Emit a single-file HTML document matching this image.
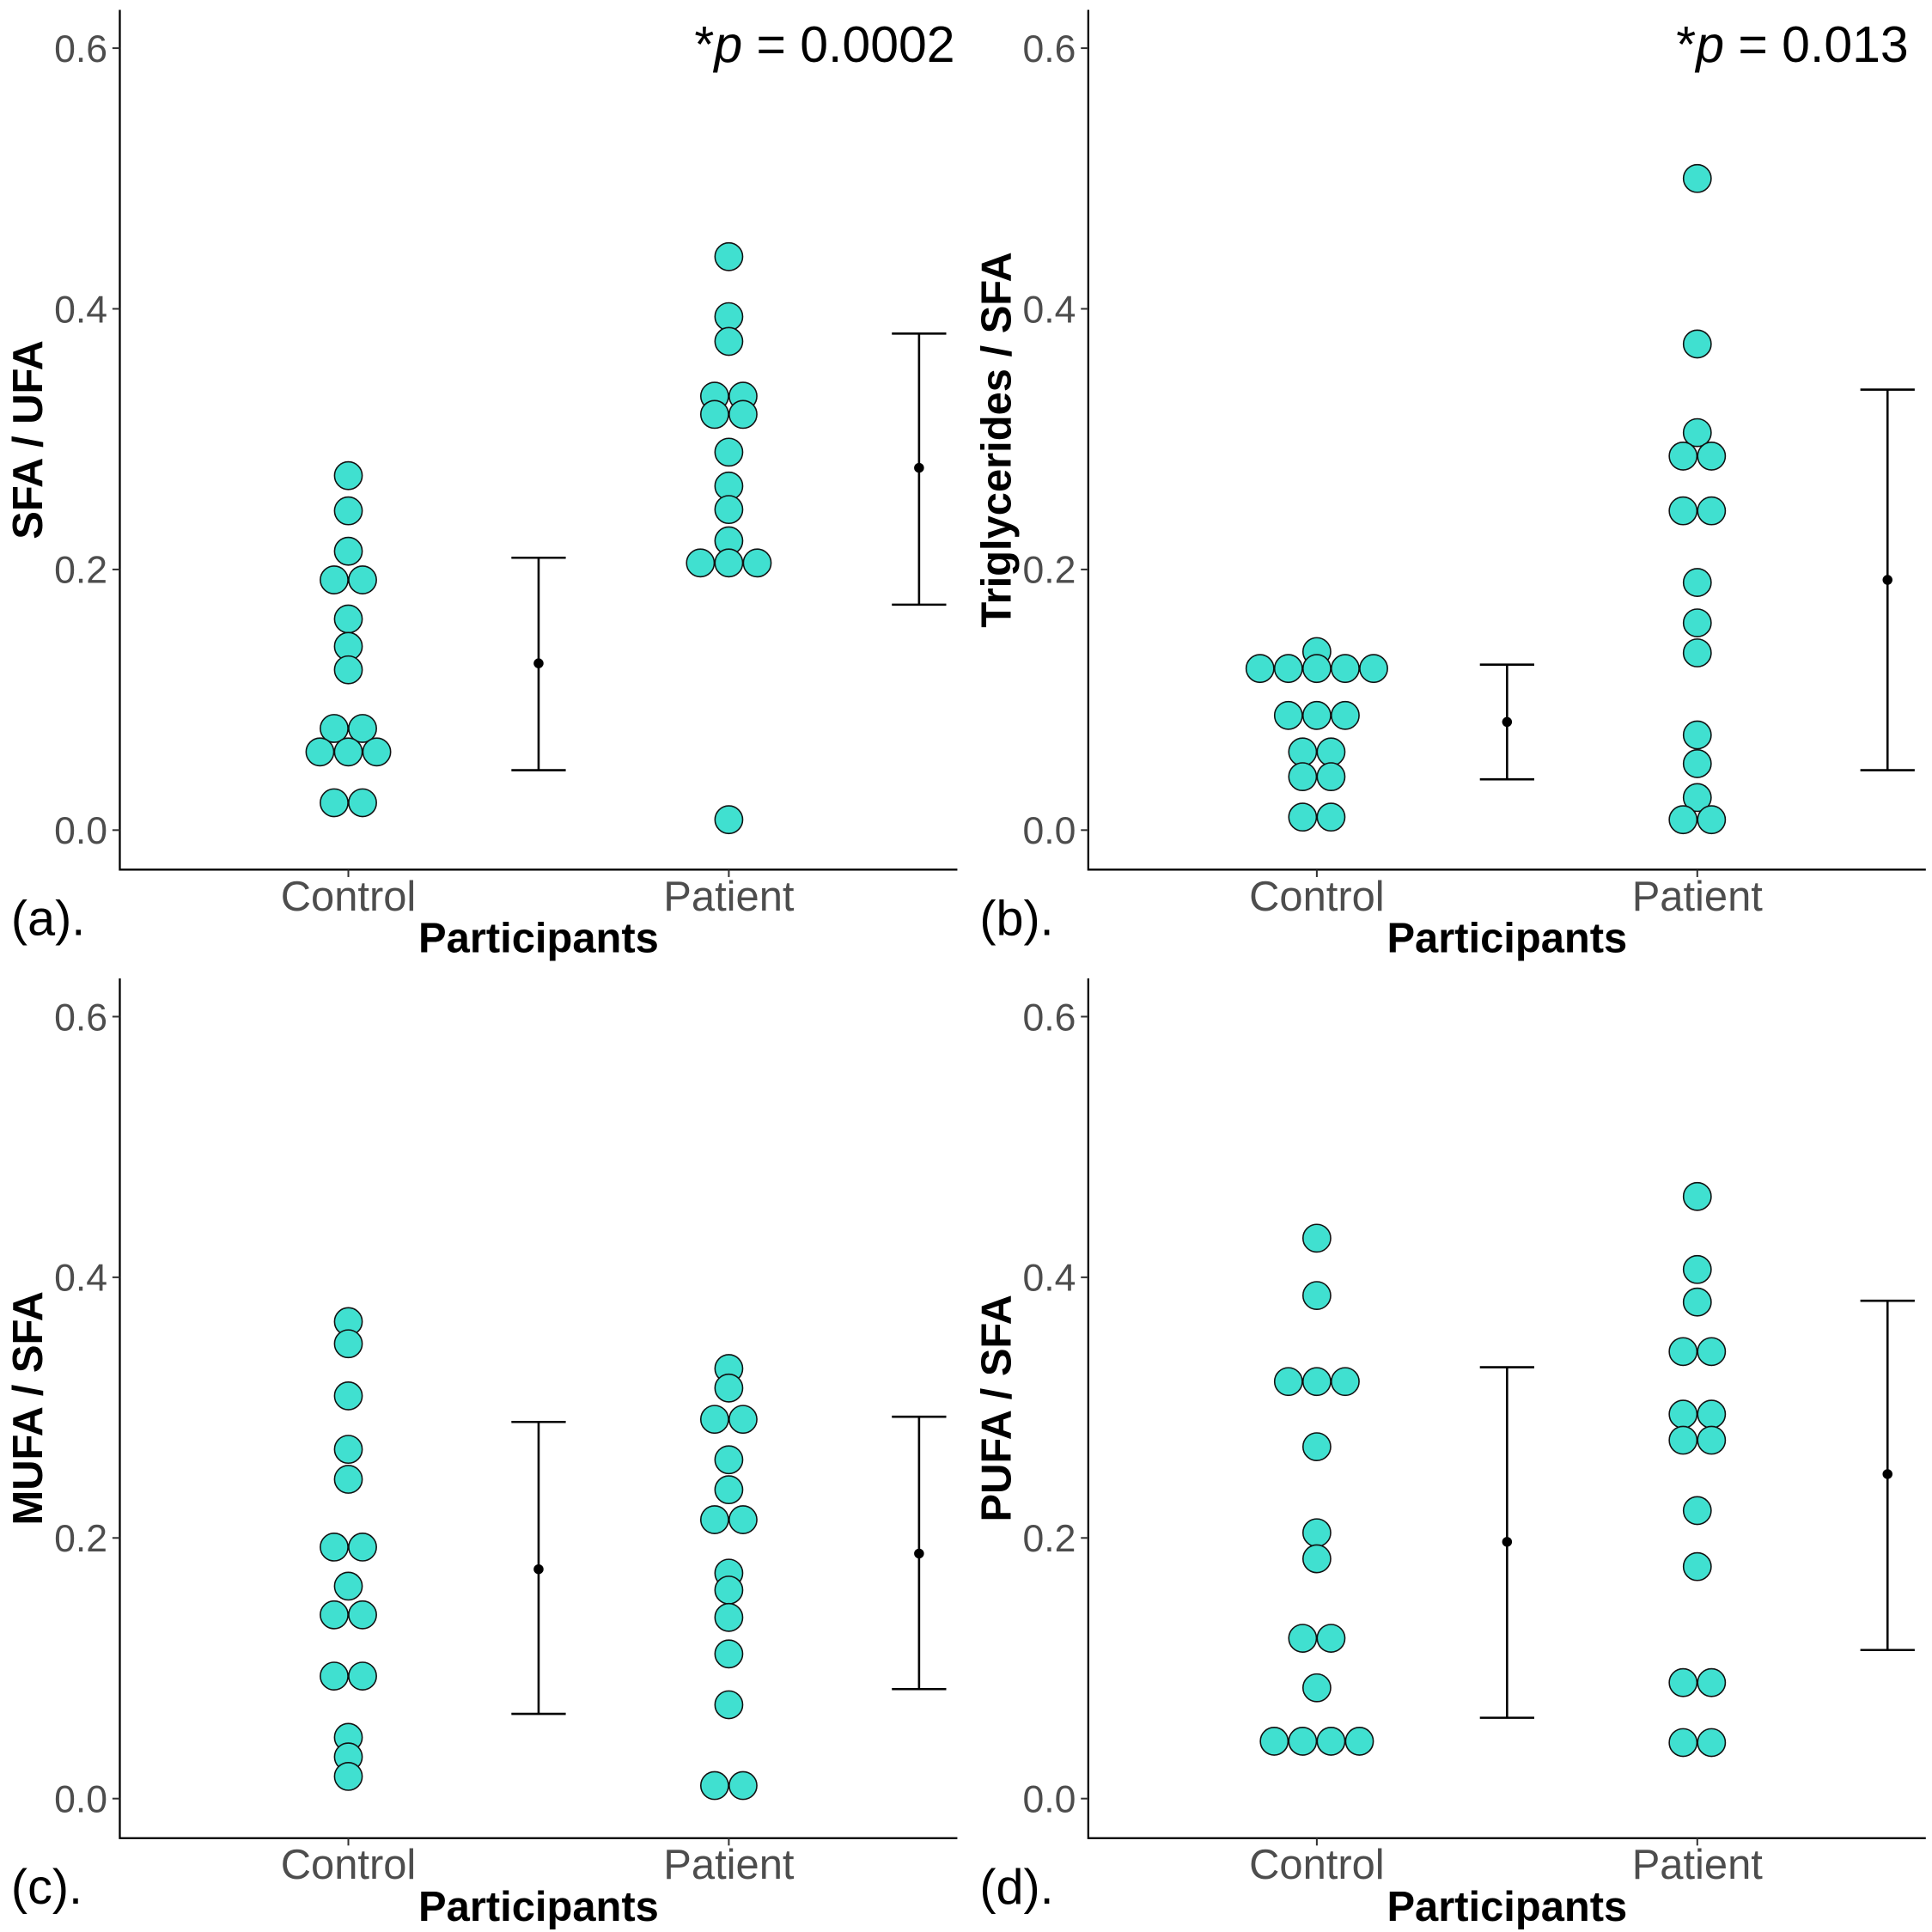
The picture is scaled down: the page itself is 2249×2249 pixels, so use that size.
<!DOCTYPE html>
<html><head><meta charset="utf-8"><style>
html,body{margin:0;padding:0;background:#fff}
svg{display:block}
text{font-family:"Liberation Sans",Arial,sans-serif}
</style></head><body>
<svg id="fig" width="2249" height="2249" viewBox="0 0 1564 1564" xmlns="http://www.w3.org/2000/svg"></svg>
<script>
// ---- data ----
const categories = ["Control","Patient"];
const yTicks = [0.0, 0.2, 0.4, 0.6];
const yTickLabels = ["0.0","0.2","0.4","0.6"];
const panelLetters = ["(a).","(b).","(c).","(d)."];
const yTitles = ["SFA / UFA","Triglycerides / SFA","MUFA / SFA","PUFA / SFA"];
const pStars = ["*","*","",""];
const pValues = ["0.0002","0.013","0.766","0.294"];

const aControl = [0.272,0.245,0.214,0.192,0.192,0.162,0.141,0.123,0.078,0.078,0.060,0.060,0.060,0.021,0.021];
const aPatient = [0.440,0.394,0.375,0.333,0.333,0.319,0.319,0.290,0.264,0.246,0.222,0.205,0.205,0.205,0.008];
const bControl = [0.137,0.124,0.124,0.124,0.124,0.124,0.088,0.088,0.088,0.060,0.060,0.041,0.041,0.010,0.010];
const bPatient = [0.500,0.373,0.305,0.287,0.287,0.245,0.245,0.190,0.159,0.136,0.073,0.051,0.025,0.008,0.008];
const cControl = [0.366,0.349,0.309,0.268,0.245,0.193,0.193,0.163,0.141,0.141,0.094,0.094,0.047,0.032,0.017];
const cPatient = [0.330,0.315,0.291,0.291,0.260,0.237,0.214,0.214,0.173,0.160,0.139,0.111,0.072,0.010,0.010];
const dControl = [0.430,0.386,0.320,0.320,0.320,0.270,0.204,0.184,0.123,0.123,0.085,0.044,0.044,0.044,0.044];
const dPatient = [0.462,0.406,0.381,0.343,0.343,0.295,0.295,0.275,0.275,0.221,0.178,0.089,0.089,0.043,0.043];

// error bars: [mean, lower, upper] per group
const aErr = [[0.128,0.046,0.209],[0.278,0.173,0.381]];
const bErr = [[0.083,0.039,0.127],[0.192,0.046,0.338]];
const cErr = [[0.176,0.065,0.289],[0.188,0.084,0.293]];
const dErr = [[0.197,0.062,0.331],[0.249,0.114,0.382]];

const panels = [
  {ctrl:aControl, pat:aPatient, err:aErr},
  {ctrl:bControl, pat:bPatient, err:bErr},
  {ctrl:cControl, pat:cPatient, err:cErr},
  {ctrl:dControl, pat:dPatient, err:dErr}
];

const NS = "http://www.w3.org/2000/svg";
const svg = document.getElementById('fig');
function mk(tag, attrs, parent){
  const e = document.createElementNS(NS, tag);
  for (const k in attrs) e.setAttribute(k, attrs[k]);
  (parent||svg).appendChild(e);
  return e;
}
const pRight = [773, 761, 753, 753];

panels.forEach((P, i) => {
  const ox = (i % 2) * 784, oy = Math.floor(i / 2) * 784;
  const g = mk('g', {transform:`translate(${ox},${oy})`});
  
  
  const y = v => 672 - v * 1055;
  const x = c => 282 + (c - 1) * 308;

  const ax = mk('path', {d:'M97,8 V704 H775', fill:'none', stroke:'#000', 'stroke-width':1.6}, g);
  
  
  yTicks.forEach((t, k) => {
    mk('line', {x1:91, x2:97, y1:y(t), y2:y(t), stroke:'#333', 'stroke-width':1.4}, g);
    const tl = mk('text', {x:87, y:y(t) + 11, 'text-anchor':'end', 'font-size':31, fill:'#4d4d4d'}, g);
    tl.textContent = yTickLabels[k];
    
    
  });
  categories.forEach((c, k) => {
    mk('line', {x1:x(k+1), x2:x(k+1), y1:704, y2:710, stroke:'#333', 'stroke-width':1.4}, g);
    const tl = mk('text', {x:x(k+1), y:737, 'text-anchor':'middle', 'font-size':34, fill:'#4d4d4d'}, g);
    tl.textContent = c;
    
    
  });
  const xt = mk('text', {x:436, y:771, 'text-anchor':'middle', 'font-size':34, 'font-weight':'bold'}, g);
  xt.textContent = 'Participants';
  
  
  const yt = mk('text', {x:0, y:0, transform:`translate(34,356) rotate(-90)`, 'text-anchor':'middle', 'font-size':34, 'font-weight':'bold'}, g);
  yt.textContent = yTitles[i];
  
  
  const lt = mk('text', {x:9, y:757, 'font-size':40}, g);
  lt.textContent = panelLetters[i];
  
  
  const pt = mk('text', {x:pRight[i], y:(i<2?50:834), 'text-anchor':'end', 'font-size':41}, g);
  pt.innerHTML = pStars[i] + '<tspan font-style="italic">p</tspan> = ' + pValues[i];
  
  

  [P.ctrl, P.pat].forEach((vals, k) => {
    const counts = {};
    vals.forEach(v => counts[v] = (counts[v] || 0) + 1);
    const seen = {};
    vals.forEach(v => {
      const n = counts[v], j = (seen[v] = (seen[v] || 0) + 1) - 1;
      const cx = x(k+1) + (j - (n - 1) / 2) * 23;
      const c = mk('circle', {cx:cx, cy:y(v), r:11.2, fill:'#40E0D0', stroke:'#111', 'stroke-width':1.1}, g);
      
      
    });
  });
  P.err.forEach((e, k) => {
    const cx = x(k+1) + 154;
    const eg = mk('g', {stroke:'#000', 'stroke-width':1.8}, g);
    
    
    mk('line', {x1:cx, x2:cx, y1:y(e[1]), y2:y(e[2])}, eg);
    mk('line', {x1:cx-22, x2:cx+22, y1:y(e[1]), y2:y(e[1])}, eg);
    mk('line', {x1:cx-22, x2:cx+22, y1:y(e[2]), y2:y(e[2])}, eg);
    mk('circle', {cx:cx, cy:y(e[0]), r:4, fill:'#000', stroke:'none'}, eg);
  });
});
</script>
</body></html>
